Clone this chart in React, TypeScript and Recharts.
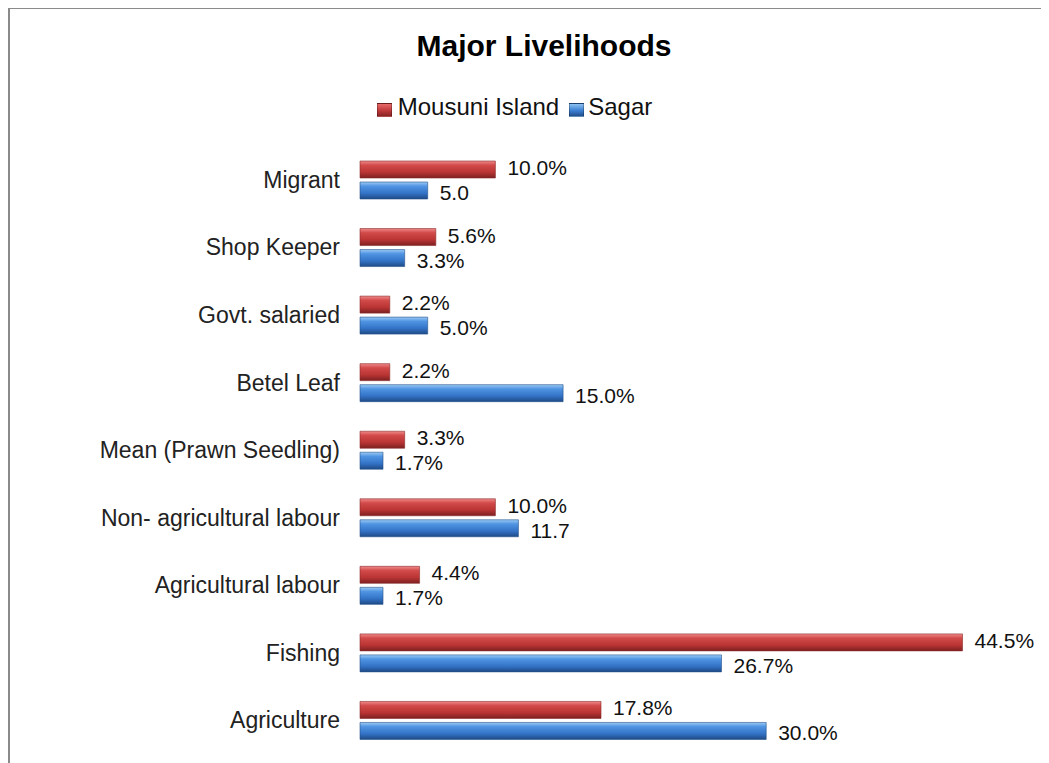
import React from 'react';
import { BarChart, Bar, XAxis, YAxis, Legend, LabelList } from 'recharts';

// top-to-bottom order as shown in the chart
const categories = [
  'Migrant',
  'Shop Keeper',
  'Govt. salaried',
  'Betel Leaf',
  'Mean (Prawn Seedling)',
  'Non- agricultural labour',
  'Agricultural labour',
  'Fishing',
  'Agriculture',
];
const mousuni = [10.0, 5.6, 2.2, 2.2, 3.3, 10.0, 4.4, 44.5, 17.8];
const sagar = [5.0, 3.3, 5.0, 15.0, 1.7, 11.7, 1.7, 26.7, 30.0];
const mousuniLabels = ['10.0%', '5.6%', '2.2%', '2.2%', '3.3%', '10.0%', '4.4%', '44.5%', '17.8%'];
const sagarLabels = ['5.0', '3.3%', '5.0%', '15.0%', '1.7%', '11.7', '1.7%', '26.7%', '30.0%'];

const data = categories.map((name, i) => ({
  name,
  mousuni: mousuni[i],
  sagar: sagar[i],
  mLabel: mousuniLabels[i],
  sLabel: sagarLabels[i],
}));

const FONT = '"Liberation Sans", Arial, sans-serif';

const swatch: Record<string, string> = {
  mousuni: 'linear-gradient(#e86a6a, #c0393b 55%, #8a2424)',
  sagar: 'linear-gradient(#8cc2f2, #3b7fd2 55%, #23508f)',
};

const renderLegend = (props: any) => {
  const items = props.payload || [];
  return (
    <div style={{ display: 'flex', justifyContent: 'center', height: 28, alignItems: 'center', fontFamily: FONT }}>
      {items.map((it: any, i: number) => (
        <div key={it.dataKey} style={{ display: 'flex', alignItems: 'center', marginRight: i === 0 ? 10 : 0 }}>
          <span
            style={{
              width: 13,
              height: 12,
              background: swatch[it.dataKey],
              border: '1px solid rgba(0,0,0,0.25)',
              marginRight: i === 0 ? 6 : 4,
              marginTop: 5,
            }}
          />
          <span style={{ fontSize: 24, color: '#111' }}>{it.value}</span>
        </div>
      ))}
    </div>
  );
};

// value label to the right of a bar, nudged up (red) or down (blue)
const makeLabel = (dy: number) => (p: any) => {
  const { x, y, width, height, value } = p;
  return (
    <text
      x={Number(x) + Number(width) + 12}
      y={Number(y) + Number(height) / 2 + dy}
      dominantBaseline="central"
      fontSize={21}
      fill="#111"
      fontFamily={FONT}
    >
      {value}
    </text>
  );
};

export default function App() {
  return (
    <div style={{ position: 'relative', width: 1041, height: 755, fontFamily: FONT }}>
      <div
        style={{
          position: 'absolute',
          left: 0,
          top: -1,
          right: -20,
          bottom: -20,
          borderLeft: '2px solid #8a8a8a',
          borderTop: '2px solid #8a8a8a',
        }}
      />
      <div
        style={{
          position: 'absolute',
          top: 21,
          left: 0,
          width: 1072,
          textAlign: 'center',
          fontSize: 30,
          lineHeight: '34px',
          fontWeight: 'bold',
          color: '#000',
        }}
      >
        Major Livelihoods
      </div>
      <BarChart
        width={1041}
        height={755}
        data={data}
        layout="vertical"
        margin={{ top: 110, right: 12, bottom: 9, left: 0 }}
        barSize={17}
        barGap={4}
      >
        <defs>
          <linearGradient id="redGrad" x1="0" y1="0" x2="0" y2="1">
            <stop offset="0%" stopColor="#f08a8a" />
            <stop offset="25%" stopColor="#d24a4a" />
            <stop offset="65%" stopColor="#bb3535" />
            <stop offset="100%" stopColor="#7d2020" />
          </linearGradient>
          <linearGradient id="blueGrad" x1="0" y1="0" x2="0" y2="1">
            <stop offset="0%" stopColor="#9ccbf5" />
            <stop offset="25%" stopColor="#4f94e2" />
            <stop offset="65%" stopColor="#3474c8" />
            <stop offset="100%" stopColor="#1f4a86" />
          </linearGradient>
        </defs>
        <XAxis type="number" domain={[0, 50]} hide />
        <YAxis
          type="category"
          dataKey="name"
          width={352}
          axisLine={false}
          tickLine={false}
          tickMargin={14}
          tick={{ fontSize: 23, fill: '#222', fontFamily: FONT }}
          interval={0}
        />
        <Legend verticalAlign="top" align="left" wrapperStyle={{ top: 85, left: 0, width: 1013 }} content={renderLegend} />
        <Bar dataKey="mousuni" name="Mousuni Island" fill="url(#redGrad)" stroke="#8a2a2a" strokeWidth={0.6} isAnimationActive={false}>
          <LabelList dataKey="mLabel" content={makeLabel(-2)} />
        </Bar>
        <Bar dataKey="sagar" name="Sagar" fill="url(#blueGrad)" stroke="#24508a" strokeWidth={0.6} isAnimationActive={false}>
          <LabelList dataKey="sLabel" content={makeLabel(2)} />
        </Bar>
      </BarChart>
    </div>
  );
}
